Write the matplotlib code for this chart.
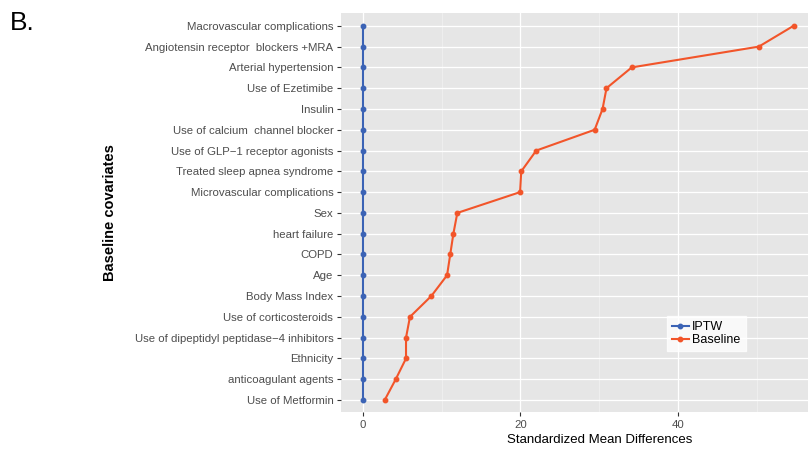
import matplotlib
matplotlib.use('Agg')
from matplotlib import pyplot as plt
from matplotlib.ticker import MultipleLocator

covariates = ['Macrovascular complications', 'Angiotensin receptor  blockers +MRA',
              'Arterial hypertension', 'Use of Ezetimibe', 'Insulin',
              'Use of calcium  channel blocker', 'Use of GLP\u22121 receptor agonists',
              'Treated sleep apnea syndrome', 'Microvascular complications', 'Sex',
              'heart failure', 'COPD', 'Age', 'Body Mass Index', 'Use of corticosteroids',
              'Use of dipeptidyl peptidase\u22124 inhibitors', 'Ethnicity',
              'anticoagulant agents', 'Use of Metformin']
baseline = [54.6, 50.2, 34.1, 30.9, 30.4, 29.4, 22.0, 20.1, 19.95, 12.0,
            11.5, 11.1, 10.7, 8.7, 6.0, 5.5, 5.5, 4.2, 2.8]
iptw = [0] * len(covariates)

plt.rcParams['font.family'] = ['Liberation Sans', 'DejaVu Sans']

fig = plt.figure(figsize=(8.08, 4.51), dpi=100)
ax = fig.add_axes([0.422, 0.0854, 0.587, 0.885])
ax.set_facecolor('#E6E6E6')

y = list(range(len(covariates) - 1, -1, -1))
ax.plot(iptw, y, color='#3B63B5', lw=1.5, marker='o', ms=3.2, label='IPTW')
ax.plot(baseline, y, color='#F2552A', lw=1.5, marker='o', ms=3.2, label='Baseline')

ax.set_yticks(y)
ax.set_yticklabels(covariates)
ax.set_ylim(-0.6, len(covariates) - 0.4)
ax.set_xlim(-2.74, 57.35)
ax.xaxis.set_major_locator(MultipleLocator(20))
ax.xaxis.set_minor_locator(MultipleLocator(10))

ax.grid(which='major', color='white', lw=0.9)
ax.grid(which='minor', axis='x', color='#F2F2F2', lw=0.5)
ax.set_axisbelow(True)
for s in ax.spines.values():
    s.set_visible(False)
ax.tick_params(axis='both', which='major', length=3, color='#333333',
               labelcolor='#4D4D4D', labelsize=8.2, pad=2.5)
ax.tick_params(axis='x', which='minor', length=0)

ax.set_xlabel('Standardized Mean Differences', fontsize=9.5)
ax.xaxis.set_label_coords(0.546, -0.055)
ax.set_ylabel('Baseline covariates', fontsize=10.5, fontweight='bold')
ax.yaxis.set_label_coords(-0.472, 0.5)

leg = ax.legend(loc='upper left', bbox_to_anchor=(0.688, 0.242), fontsize=9,
                frameon=True, fancybox=False, handlelength=1.3, handletextpad=0.3,
                borderpad=0.4, labelspacing=0.1, borderaxespad=0)
leg.get_frame().set_edgecolor('white')
leg.get_frame().set_facecolor('white')

fig.text(0.012, 0.975, 'B.', fontsize=19, va='top', ha='left')

fig.savefig('out.png', dpi=100)
